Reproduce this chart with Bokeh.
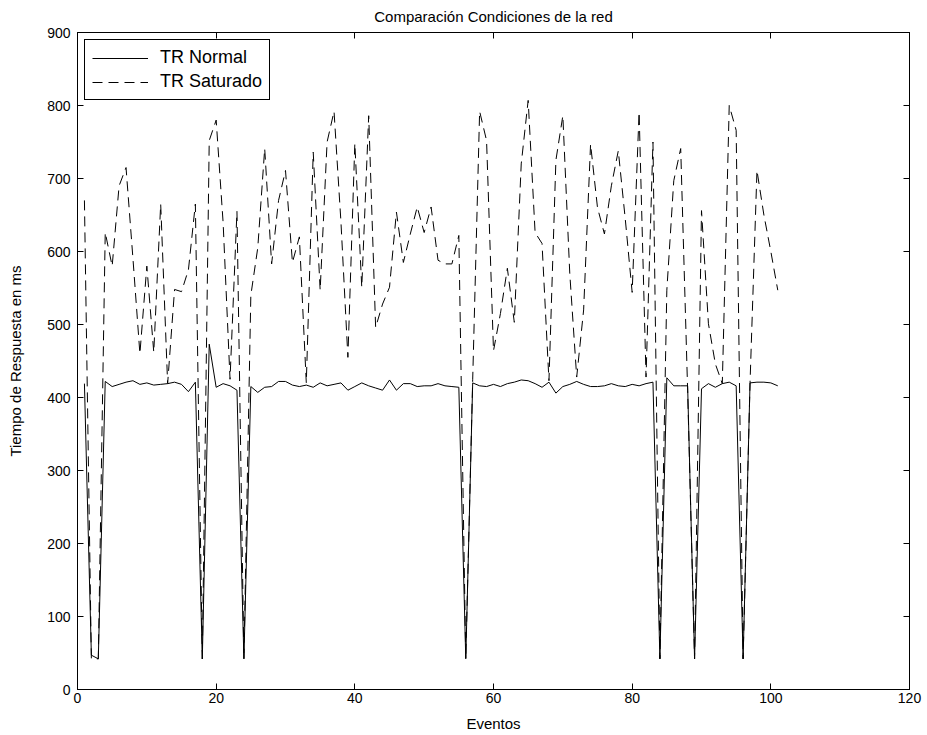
from bokeh.plotting import figure
from bokeh.models import Range1d, LinearAxis, FixedTicker, Legend, LegendItem
from bokeh.embed import file_html
from bokeh.resources import INLINE

eventos = list(range(1, 102))

tr_normal = [
    419, 47, 42, 422, 415, 418, 421, 423, 418, 420,
    417, 418, 419, 421, 418, 408, 421, 42, 473, 414,
    419, 416, 410, 42, 415, 407, 414, 415, 422, 422,
    417, 415, 417, 414, 420, 416, 418, 420, 410, 415,
    420, 416, 413, 410, 424, 410, 419, 419, 415, 416,
    416, 419, 416, 415, 414, 42, 420, 416, 415, 418,
    415, 419, 421, 424, 423, 419, 414, 421, 406, 415,
    418, 422, 418, 415, 415, 416, 419, 416, 415, 418,
    416, 419, 421, 42, 427, 416, 416, 416, 42, 412,
    419, 414, 419, 421, 416, 42, 420, 421, 421, 420,
    416,
]

tr_saturado = [
    670, 42, 42, 626, 580, 690, 715, 590, 460, 580,
    462, 665, 419, 548, 545, 575, 665, 42, 752, 780,
    640, 425, 655, 42, 540, 605, 741, 583, 670, 711,
    585, 620, 420, 736, 547, 750, 792, 640, 455, 748,
    551, 786, 496, 528, 551, 654, 585, 624, 661, 626,
    661, 588, 583, 583, 622, 42, 425, 792, 752, 464,
    515, 577, 503, 720, 807, 626, 611, 423, 725, 786,
    570, 428, 520, 747, 660, 624, 690, 738, 645, 544,
    791, 428, 750, 42, 547, 697, 741, 410, 42, 656,
    501, 446, 419, 800, 766, 42, 420, 711, 650, 600,
    547,
]

x_ticks = [0, 20, 40, 60, 80, 100, 120]
y_ticks = [0, 100, 200, 300, 400, 500, 600, 700, 800, 900]

FONT = "Liberation Sans"

p = figure(
    width=927, height=735,
    output_backend="svg", toolbar_location=None,
    x_range=Range1d(0, 120), y_range=Range1d(0, 900),
    title="Comparación Condiciones de la red",
    x_axis_label="Eventos", y_axis_label="Tiempo de Respuesta en ms",
    min_border_left=77, min_border_right=18,
    min_border_top=32, min_border_bottom=46,
)
p.xgrid.visible = False
p.ygrid.visible = False
p.outline_line_color = "black"
p.outline_line_width = 1
p.outline_line_alpha = 1.0
p.background_fill_color = "white"
p.border_fill_color = "white"

p.title.align = "center"
p.title.vertical_align = "top"
p.title.text_font = FONT
p.title.text_font_size = "15px"
p.title.text_font_style = "normal"
p.title.text_color = "black"
p.title.standoff = 12

p.xaxis.ticker = FixedTicker(ticks=x_ticks)
p.yaxis.ticker = FixedTicker(ticks=y_ticks)
for ax in (p.xaxis[0], p.yaxis[0]):
    ax.major_tick_in = 6
    ax.major_tick_out = 0
    ax.minor_tick_line_color = None
    ax.axis_line_color = "black"
    ax.major_tick_line_color = "black"
    ax.major_label_text_font = FONT
    ax.major_label_text_font_size = "14px"
    ax.major_label_text_color = "black"
    ax.axis_label_text_font = FONT
    ax.axis_label_text_font_size = "15px"
    ax.axis_label_text_font_style = "normal"
    ax.axis_label_text_color = "black"
p.xaxis.major_label_standoff = 3
p.xaxis.axis_label_standoff = 9
p.yaxis.major_label_standoff = 7
p.yaxis.axis_label_standoff = 20

top_ax = LinearAxis(ticker=FixedTicker(ticks=x_ticks), major_label_text_font_size="0px",
                    major_tick_in=6, major_tick_out=0, minor_tick_line_color=None,
                    major_label_standoff=0, axis_line_color="black")
right_ax = LinearAxis(ticker=FixedTicker(ticks=y_ticks), major_label_text_font_size="0px",
                      major_tick_in=6, major_tick_out=0, minor_tick_line_color=None,
                      major_label_standoff=0, axis_line_color="black")
p.add_layout(top_ax, "above")
p.add_layout(right_ax, "right")

r1 = p.line(eventos, tr_normal, line_color="black", line_width=1)
r2 = p.line(eventos, tr_saturado, line_color="black", line_width=1, line_dash="10 6")

legend = Legend(
    items=[LegendItem(label="TR Normal", renderers=[r1]),
           LegendItem(label="TR Saturado", renderers=[r2])],
    location="top_left",
    border_line_color="black", border_line_width=1, border_line_alpha=1.0,
    background_fill_color="white", background_fill_alpha=1.0,
    label_text_font=FONT, label_text_font_size="18px", label_text_color="black",
    glyph_width=56, glyph_height=20, label_height=20, label_standoff=12,
    margin=7, padding=7, spacing=3,
)
p.add_layout(legend)

open("out.html", "w").write(file_html(p, INLINE))
